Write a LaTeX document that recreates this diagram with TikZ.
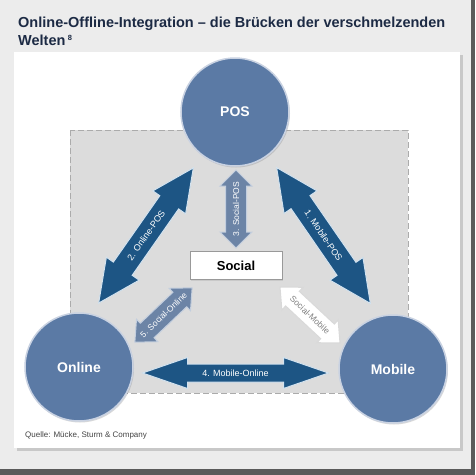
\documentclass[tikz,border=0pt]{standalone}
\usepackage{fontspec}
\setmainfont{Liberation Sans}
\usetikzlibrary{shadows}
\definecolor{pagebg}{HTML}{ECECEC}
\definecolor{darkbar}{HTML}{5A5A5A}
\definecolor{panelshadow}{HTML}{C8C8C8}
\definecolor{zonefill}{HTML}{DCDCDC}
\definecolor{zonedash}{HTML}{ABABAB}
\definecolor{circfill}{HTML}{5B7AA5}
\definecolor{circedge}{HTML}{C9D2E2}
\definecolor{darkarrow}{HTML}{1D5584}
\definecolor{darkedge}{HTML}{D2E2EF}
\definecolor{midarrow}{HTML}{6C84A6}
\definecolor{midedge}{HTML}{C3CEDE}
\definecolor{titlecol}{HTML}{1C2A44}
\definecolor{srccol}{HTML}{444444}
% #1 kind, #2 name, #3 centre, #4 angle, #5 half length, #6 half shaft, #7 half head, #8 head length, #9 text
\newcommand\dblarr[9]{%
  \begin{scope}[shift={#3}, rotate=#4, x=1pt, y=1pt]
    \path[#1 path] (-#5,0) -- (-#5+#8,#7) -- (-#5+#8,#6) -- (#5-#8,#6) -- (#5-#8,#7) -- (#5,0)
      -- (#5-#8,-#7) -- (#5-#8,-#6) -- (-#5+#8,-#6) -- (-#5+#8,-#7) -- cycle;
    \node[transform shape, #1 text] (#2) at (0,0) {#9};
  \end{scope}}
\begin{document}
\begin{tikzpicture}[x=1pt,y=-1pt,
  circ/.style={circle, minimum size=108pt, fill=circfill, draw=circedge, line width=1.5pt,
    text=white, font=\fontsize{14}{16}\selectfont\bfseries,
    drop shadow={opacity=0.3, shadow xshift=1pt, shadow yshift=-1.5pt}},
  dark path/.style={fill=darkarrow, draw=darkedge, line width=1pt, line join=miter},
  dark text/.style={inner sep=0pt, text=white, font=\fontsize{9}{10}\selectfont},
  mid path/.style={fill=midarrow, draw=midedge, line width=1pt},
  mid text/.style={inner sep=0pt, text=white, font=\fontsize{8.5}{9}\selectfont},
  white path/.style={fill=white, draw=black!15, line width=1pt},
  white text/.style={inner sep=0pt, text=black!50, font=\fontsize{8.5}{9}\selectfont},
]
\useasboundingbox (0,0) rectangle (475,475);
\fill[pagebg] (0,0) rectangle (475,475);
\fill[darkbar] (0,469) rectangle (475,475);
\fill[darkbar] (471,0) rectangle (475,475);
% panel
\fill[panelshadow] (17,55) rectangle (463,451);
\fill[white] (14,52) rectangle (460,448);
% zone
\draw[fill=zonefill, draw=zonedash, line width=1pt, dash pattern=on 6pt off 3pt] (70,130) rectangle (408,393);
% title
\node[anchor=base west, inner sep=0pt, text=titlecol, font=\fontsize{14.5}{17}\selectfont\bfseries] (title1) at (18,27) {Online-Offline-Integration -- die Brücken der verschmelzenden};
\node[anchor=base west, inner sep=0pt, text=titlecol, font=\fontsize{14.5}{17}\selectfont\bfseries] (title2) at (18,45) {Welten\,\raisebox{4.5pt}{\fontsize{7.5}{8}\selectfont 8}};
% circles
\node[circ] (pos) at (235,112) {POS};
\node[circ] (online) at (79,367) {Online};
\node[circ] (mobile) at (393,369) {Mobile};
% social
\node[draw=black!40, fill=white, minimum width=92pt, minimum height=28pt, inner sep=0pt,
  font=\fontsize{13}{15}\selectfont\bfseries,
  drop shadow={opacity=0.2, shadow xshift=1pt, shadow yshift=-1pt}] (social) at (236,265.5) {Social};
% arrows
\dblarr{dark}{a2}{(146,235.5)}{55}{82.5}{11.5}{20}{42}{2. Online-POS}
\dblarr{dark}{a1}{(323.5,235.5)}{-55.4}{82.5}{11.5}{20}{42}{1. Mobile-POS}
\dblarr{dark}{a4}{(235.5,373)}{0}{93}{9}{15.5}{45}{4. Mobile-Online}
\dblarr{mid}{a3}{(236,209)}{90}{39}{10.5}{16}{16}{3. Social-POS}
\dblarr{mid}{a5}{(163.5,315)}{43.5}{39.5}{10}{15.5}{17}{5. Social-Online}
\dblarr{white}{a6}{(310,315)}{-43}{41}{10}{15.5}{17}{Social-Mobile}
% source
\node[anchor=base west, inner sep=0pt, text=srccol, font=\fontsize{8}{9}\selectfont] (src) at (25,437) {Quelle: Mücke, Sturm \& Company};
\end{tikzpicture}
\end{document}
